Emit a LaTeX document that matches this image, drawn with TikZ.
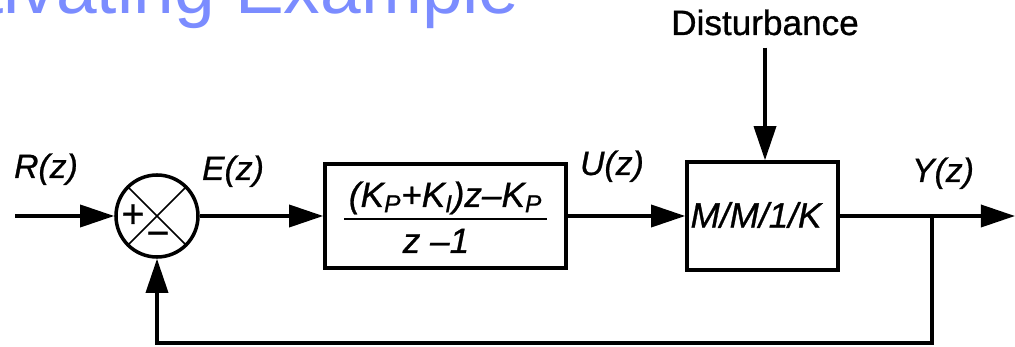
\documentclass[tikz,border=0pt]{standalone}
\usepackage{fontspec}
\setmainfont{Liberation Sans}
\newfontfamily\diagfont[FakeBold=0.8]{Liberation Sans}
\usetikzlibrary{arrows.meta}

\definecolor{titleblue}{RGB}{123,140,255}

\tikzset{
  block/.style={draw, line width=2.5pt, inner sep=0pt},
  sumnode/.style={draw, circle, line width=2.5pt, minimum size=2.05cm, inner sep=0pt},
  lbl/.style={font=\diagfont\fontsize{24}{28}\selectfont\itshape, inner sep=0pt, anchor=base},
  sig/.style={line width=2.5pt, -{Triangle[length=0.85cm, width=0.55cm]}}
}

\begin{document}
\begin{tikzpicture}[x=0.025cm, y=-0.025cm]

\useasboundingbox (0,0) rectangle (1015,347);
\clip (0,0) rectangle (1015,347);

% slide heading, cut by the frame
\node[text=titleblue, font=\fontsize{52}{60}\selectfont, inner sep=0pt, anchor=base east] (title) at (520,14) {Motivating Example};

% summing junction
\node[sumnode] (sum) at (157,216) {};
\draw[line width=1.2pt] (sum.45) -- (sum.225) (sum.135) -- (sum.-45);
\node[font=\diagfont\fontsize{28}{30}\selectfont, inner sep=0pt] (plus) at (133,216) {+};
\node[font=\diagfont\fontsize{28}{30}\selectfont, inner sep=0pt] (minus) at (158,239) {−};

% PI controller
\node[block, minimum width=6.025cm, minimum height=2.6cm] (ctrl) at (445.5,216) {};
\node[font=\diagfont\fontsize{25}{29}\selectfont\itshape, inner sep=3pt, anchor=base] (num) at (445.5,207) {(K\textsubscript{P}+K\textsubscript{I})z–K\textsubscript{P}};
\node[font=\diagfont\fontsize{25}{29}\selectfont\itshape, inner sep=0pt, anchor=base] (den) at (436,253) {z –1};
\draw[line width=1.2pt] (num.south west) -- (num.south east);

% queue
\node[block, minimum width=3.775cm, minimum height=2.7cm] (plant) at (762.5,216) {};
\node[font=\diagfont\fontsize{25}{29}\selectfont\itshape, inner sep=0pt] (plantlbl) at (756,215) {M/M/1/K};
\node[lbl, font=\diagfont\fontsize{25}{29}\selectfont, inner sep=0.3cm] (dist) at (765,35) {Disturbance};

\coordinate (in) at (15,216);
\coordinate (out) at (1015,216);
\coordinate (br) at (932,216);

% signals
\draw[sig] (in) -- (sum);
\draw[sig] (sum) -- (ctrl);
\draw[sig] (ctrl) -- (plant);
\draw[sig] (plant) -- (out);
\draw[sig] (dist.south) -- (dist.south |- plant.north);
\draw[sig] (br) -- ++(0,127) -| (sum.south);

\node[lbl] (r) at (46,178) {R(z)};
\node[lbl] (e) at (233,180) {E(z)};
\node[lbl] (u) at (612,175) {U(z)};
\node[lbl] (y) at (943,182) {Y(z)};

\end{tikzpicture}
\end{document}
